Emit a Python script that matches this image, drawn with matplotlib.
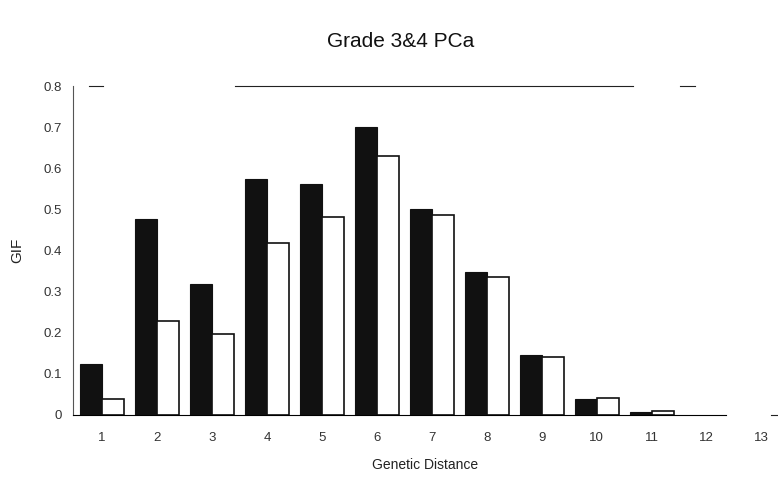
import numpy as np
import matplotlib
matplotlib.use('Agg')
import matplotlib.pyplot as plt

plt.rcParams['font.family'] = ['Liberation Sans', 'DejaVu Sans']

# genetic distance categories and GIF values
distance = [1, 2, 3, 4, 5, 6, 7, 8, 9, 10, 11, 12, 13]
gif_black = [0.124, 0.476, 0.318, 0.575, 0.563, 0.700, 0.502, 0.348, 0.145, 0.038, 0.007, 0.0, 0.0]
gif_white = [0.038, 0.229, 0.198, 0.419, 0.481, 0.629, 0.486, 0.336, 0.140, 0.041, 0.010, 0.0, 0.0]
yticks = [0, 0.1, 0.2, 0.3, 0.4, 0.5, 0.6, 0.7, 0.8]

fig = plt.figure(figsize=(7.78, 4.83), dpi=100)
ax = fig.add_axes([0.0938, 0.1408, 0.9062, 0.681])

x = np.array(distance)
b = np.array(gif_black)
wv = np.array(gif_white)
w = 0.4
# zero-height bars are not drawn
ax.bar(x[b > 0] - w / 2, b[b > 0], width=w, color='#111111', edgecolor='#111111', linewidth=0.8)
ax.bar(x[wv > 0] + w / 2, wv[wv > 0], width=w, color='white', edgecolor='#111111', linewidth=1.2)

ax.set_xlim(0.47, 13.3)
ax.set_ylim(0, 0.8)
ax.set_xticks(x)
ax.set_xticklabels([str(d) for d in distance], fontsize=9.5, color='#333333')
ax.set_yticks(yticks)
ax.set_yticklabels(['0'] + ['%.1f' % t for t in yticks[1:]], fontsize=9.5, color='#333333')
ax.tick_params(length=0, pad=12)
ax.tick_params(axis='y', pad=8)

for s in ['top', 'right']:
    ax.spines[s].set_visible(False)
ax.spines['bottom'].set_bounds(0.47, 12.35)
ax.spines['bottom'].set_linewidth(0.8)
ax.spines['left'].set_linewidth(0.8)
ax.spines['left'].set_color('#555555')

# broken frame lines from the scan
ax.axhline(0.8, xmin=0.23, xmax=0.794, color='#222222', linewidth=0.8, clip_on=False)
ax.axhline(0.8, xmin=0.023, xmax=0.043, color='#222222', linewidth=0.8, clip_on=False)
ax.axhline(0.8, xmin=0.861, xmax=0.882, color='#222222', linewidth=0.8, clip_on=False)
ax.axhline(0, xmin=0.99, xmax=1.0, color='#222222', linewidth=0.8, clip_on=False)

ax.set_xlabel('Genetic Distance', fontsize=10, color='#222222', labelpad=10)
ax.set_ylabel('GIF', fontsize=11, color='#222222', labelpad=14)
fig.text(0.515, 0.915, 'Grade 3&4 PCa', ha='center', va='center', fontsize=15, color='#111111')

fig.savefig('out.png', dpi=100)
